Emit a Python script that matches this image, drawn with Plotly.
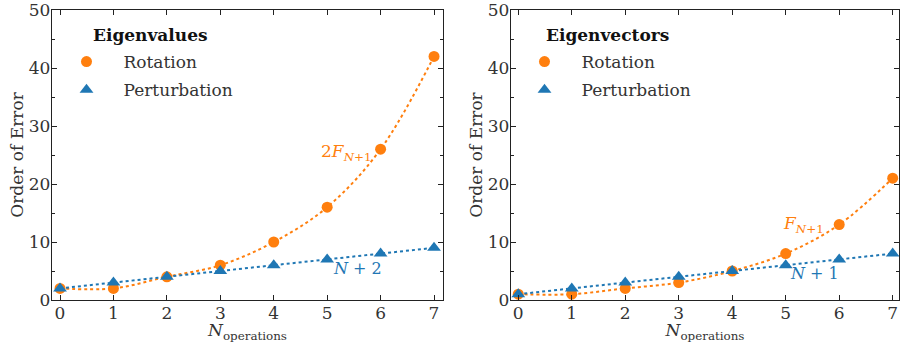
import plotly.graph_objects as go

N_ops = [0, 1, 2, 3, 4, 5, 6, 7]
eigval_rotation = [2, 2, 4, 6, 10, 16, 26, 42]
eigval_perturb = [2, 3, 4, 5, 6, 7, 8, 9]
eigvec_rotation = [1, 1, 2, 3, 5, 8, 13, 21]
eigvec_perturb = [1, 2, 3, 4, 5, 6, 7, 8]

ORANGE = "#ff7f0e"
BLUE = "#1f77b4"
FONT = "DejaVu Serif"
FS = 17

fig = go.Figure()

def add_panel(xa, ya, leg, rot, per):
    fig.add_trace(go.Scatter(x=N_ops, y=rot, mode="lines", xaxis=xa, yaxis=ya,
                             line=dict(color=ORANGE, dash="dot", width=2, shape="spline", smoothing=1.0),
                             showlegend=False, hoverinfo="skip"))
    fig.add_trace(go.Scatter(x=N_ops, y=per, mode="lines", xaxis=xa, yaxis=ya,
                             line=dict(color=BLUE, dash="dot", width=2),
                             showlegend=False, hoverinfo="skip"))
    fig.add_trace(go.Scatter(x=N_ops, y=rot, mode="markers", xaxis=xa, yaxis=ya, name="Rotation",
                             legend=leg, legendgroup=leg + "r", cliponaxis=False,
                             marker=dict(color=ORANGE, size=11, symbol="circle")))
    fig.add_trace(go.Scatter(x=N_ops, y=per, mode="markers", xaxis=xa, yaxis=ya, name="Perturbation",
                             legend=leg, legendgroup=leg + "p", cliponaxis=False,
                             marker=dict(color=BLUE, size=12, symbol="triangle-up")))

add_panel("x", "y", "legend", eigval_rotation, eigval_perturb)
add_panel("x2", "y2", "legend2", eigvec_rotation, eigvec_perturb)

ydom = [43 / 343, 333 / 343]
axis_common = dict(showline=True, linecolor="#222", linewidth=1.3, mirror="allticks",
                   ticks="inside", ticklen=5, tickcolor="#222", showgrid=False, zeroline=False,
                   automargin=False, ticklabeloverflow="allow",
                   tickfont=dict(family=FONT, size=FS, color="#333"))
xcommon = dict(axis_common, tickmode="array", tickvals=N_ops, ticktext=[str(v) for v in N_ops],
               ticklabelstandoff=-3,
               title=dict(text="<i>N</i><sub>operations</sub>", font=dict(family=FONT, size=FS, color="#333"),
                          standoff=0))
ycommon = dict(axis_common, range=[0, 50], tickmode="linear", tick0=0, dtick=10,
               ticklabelstandoff=-3,
               minor=dict(ticks="inside", ticklen=3, dtick=5, tickcolor="#222"),
               title=dict(text="Order of Error", font=dict(family=FONT, size=FS, color="#333"), standoff=0))

legend_common = dict(xanchor="left", yanchor="top", bgcolor="rgba(0,0,0,0)",
                     font=dict(family=FONT, size=FS, color="#333"), itemwidth=64,
                     traceorder="grouped", tracegroupgap=3)

fig.update_layout(
    width=900, height=343,
    margin=dict(l=0, r=0, t=0, b=0),
    paper_bgcolor="white", plot_bgcolor="white",
    xaxis=dict(xcommon, domain=[52 / 900, 443 / 900], range=[-0.15, 7.168], anchor="y"),
    yaxis=dict(ycommon, domain=ydom, anchor="x"),
    xaxis2=dict(xcommon, domain=[511 / 900, 899 / 900], range=[-0.136, 7.118], anchor="y2"),
    yaxis2=dict(ycommon, domain=ydom, anchor="x2"),
    legend=dict(legend_common, x=49.5 / 900, y=1 - 44 / 343),
    legend2=dict(legend_common, x=507.5 / 900, y=1 - 44 / 343),
    annotations=[
        dict(x=91 / 900, y=1 - 35 / 343, xref="paper", yref="paper", text="<b>Eigenvalues</b>",
             showarrow=False, xanchor="left", yanchor="middle",
             font=dict(family=FONT, size=FS, color="#111")),
        dict(x=544 / 900, y=1 - 35 / 343, xref="paper", yref="paper", text="<b>Eigenvectors</b>",
             showarrow=False, xanchor="left", yanchor="middle",
             font=dict(family=FONT, size=FS, color="#111")),
        dict(x=5.87, y=25.5, xref="x", yref="y", text="2<i>F</i><sub><i>N</i>+1</sub>", showarrow=False,
             xanchor="right", font=dict(family=FONT, size=FS, color=ORANGE)),
        dict(x=5.08, y=5.4, xref="x", yref="y", text="<i>N</i> + 2", showarrow=False,
             xanchor="left", font=dict(family=FONT, size=FS - 1, color=BLUE)),
        dict(x=5.75, y=13.0, xref="x2", yref="y2", text="<i>F</i><sub><i>N</i>+1</sub>", showarrow=False,
             xanchor="right", font=dict(family=FONT, size=FS, color=ORANGE)),
        dict(x=5.05, y=4.5, xref="x2", yref="y2", text="<i>N</i> + 1", showarrow=False,
             xanchor="left", font=dict(family=FONT, size=FS - 1, color=BLUE)),
    ],
)

fig.write_html("out.html", config={"displayModeBar": False},
               post_script="document.body.style.margin='0px';document.body.style.padding='0px';")
